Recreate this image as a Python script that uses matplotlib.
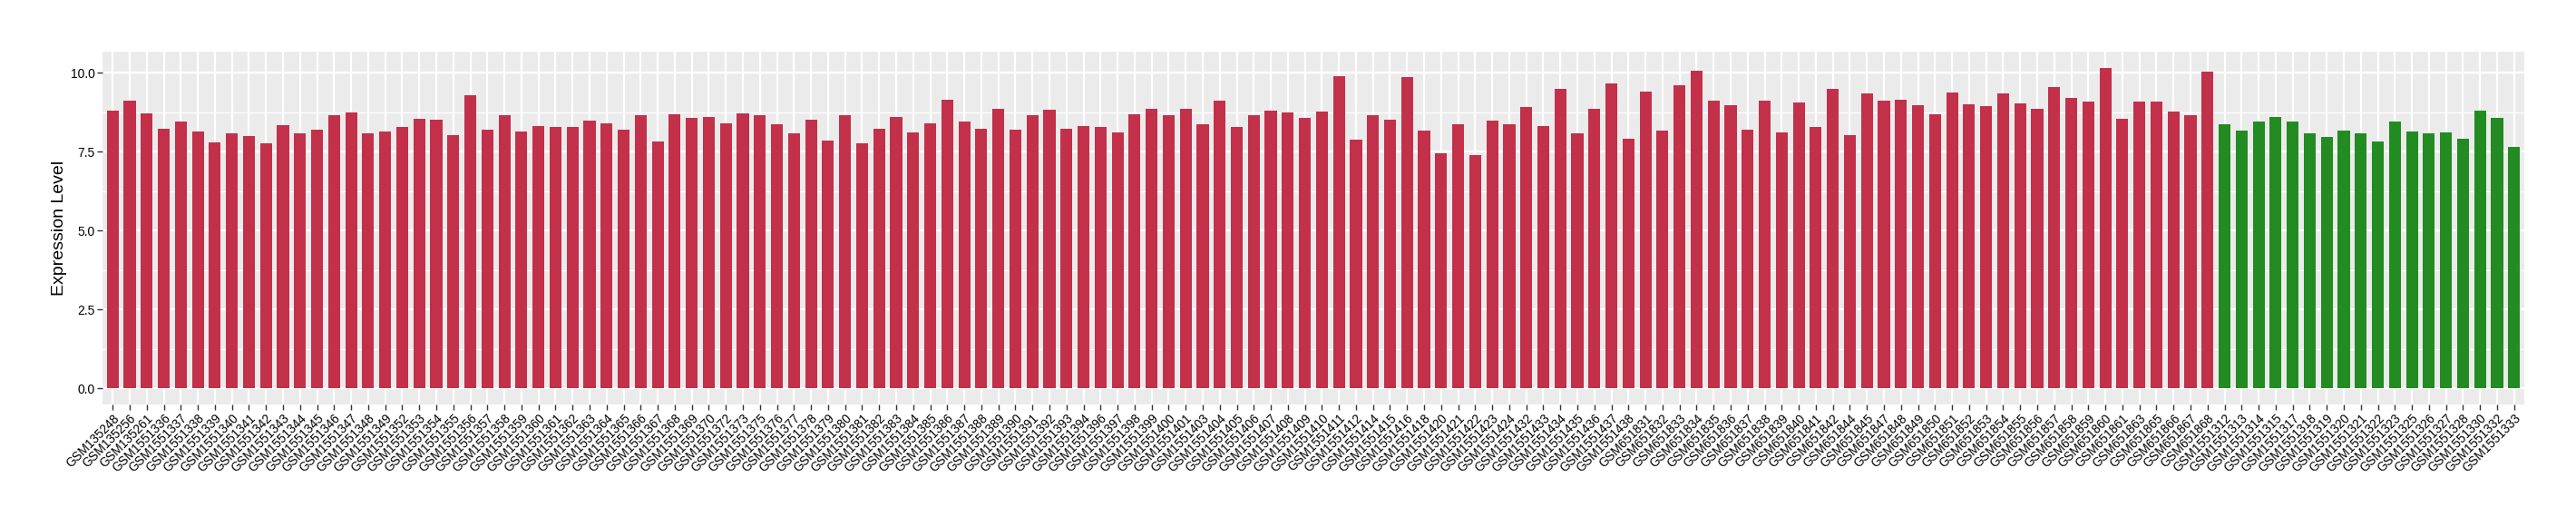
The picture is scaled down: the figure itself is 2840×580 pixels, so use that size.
import matplotlib
matplotlib.use("Agg")
import matplotlib.pyplot as plt
from matplotlib.ticker import MultipleLocator

plt.rcParams['font.family'] = ['Liberation Sans', 'DejaVu Sans']

# red group
tumor_samples = [
    "GSM135248", "GSM135256", "GSM135261",
    "GSM1551336", "GSM1551337", "GSM1551338", "GSM1551339", "GSM1551340", "GSM1551341",
    "GSM1551342", "GSM1551343", "GSM1551344", "GSM1551345", "GSM1551346", "GSM1551347",
    "GSM1551348", "GSM1551349", "GSM1551352", "GSM1551353", "GSM1551354", "GSM1551355",
    "GSM1551356", "GSM1551357", "GSM1551358", "GSM1551359", "GSM1551360", "GSM1551361",
    "GSM1551362", "GSM1551363", "GSM1551364", "GSM1551365", "GSM1551366", "GSM1551367",
    "GSM1551368", "GSM1551369", "GSM1551370", "GSM1551372", "GSM1551373", "GSM1551375",
    "GSM1551376", "GSM1551377", "GSM1551378", "GSM1551379", "GSM1551380", "GSM1551381",
    "GSM1551382", "GSM1551383", "GSM1551384", "GSM1551385", "GSM1551386", "GSM1551387",
    "GSM1551388", "GSM1551389", "GSM1551390", "GSM1551391", "GSM1551392", "GSM1551393",
    "GSM1551394", "GSM1551396", "GSM1551397", "GSM1551398", "GSM1551399", "GSM1551400",
    "GSM1551401", "GSM1551403", "GSM1551404", "GSM1551405", "GSM1551406", "GSM1551407",
    "GSM1551408", "GSM1551409", "GSM1551410", "GSM1551411", "GSM1551412", "GSM1551414",
    "GSM1551415", "GSM1551416", "GSM1551418", "GSM1551420", "GSM1551421", "GSM1551422",
    "GSM1551423", "GSM1551424", "GSM1551432", "GSM1551433", "GSM1551434", "GSM1551435",
    "GSM1551436", "GSM1551437", "GSM1551438",
    "GSM651831", "GSM651832", "GSM651833", "GSM651834", "GSM651835", "GSM651836",
    "GSM651837", "GSM651838", "GSM651839", "GSM651840", "GSM651841", "GSM651842",
    "GSM651844", "GSM651845", "GSM651847", "GSM651848", "GSM651849", "GSM651850",
    "GSM651851", "GSM651852", "GSM651853", "GSM651854", "GSM651855", "GSM651856",
    "GSM651857", "GSM651858", "GSM651859", "GSM651860", "GSM651861", "GSM651863",
    "GSM651865", "GSM651866", "GSM651867", "GSM651868",
]
tumor_values = [
    8.81, 9.12, 8.72,
    8.23, 8.44, 8.15, 7.80, 8.09, 8.00,
    7.75, 8.35, 8.07, 8.20, 8.64, 8.74,
    8.07, 8.15, 8.29, 8.55, 8.52, 8.03,
    9.29, 8.20, 8.64, 8.15, 8.32, 8.29,
    8.27, 8.49, 8.40, 8.20, 8.66, 7.83,
    8.69, 8.57, 8.60, 8.40, 8.72, 8.66,
    8.37, 8.07, 8.52, 7.86, 8.64, 7.75,
    8.23, 8.60, 8.12, 8.40, 9.14, 8.44,
    8.23, 8.86, 8.20, 8.64, 8.84, 8.23,
    8.32, 8.27, 8.12, 8.69, 8.86, 8.66,
    8.86, 8.37, 9.12, 8.27, 8.64, 8.81,
    8.74, 8.57, 8.77, 9.89, 7.89, 8.64,
    8.52, 9.86, 8.17, 7.46, 8.37, 7.38,
    8.49, 8.37, 8.92, 8.32, 9.49, 8.07,
    8.86, 9.66, 7.92,
    9.41, 8.17, 9.61, 10.06, 9.12, 8.97,
    8.20, 9.12, 8.12, 9.06, 8.29, 9.49,
    8.03, 9.34, 9.12, 9.14, 8.97, 8.69,
    9.38, 9.01, 8.94, 9.34, 9.04, 8.86,
    9.55, 9.21, 9.09, 10.15, 8.55, 9.09,
    9.09, 8.77, 8.64, 10.03,
]

# green group
normal_samples = [
    "GSM1551312", "GSM1551313", "GSM1551314", "GSM1551315", "GSM1551317", "GSM1551318",
    "GSM1551319", "GSM1551320", "GSM1551321", "GSM1551322", "GSM1551323", "GSM1551325",
    "GSM1551326", "GSM1551327", "GSM1551328", "GSM1551330", "GSM1551332", "GSM1551333",
]
normal_values = [
    8.37, 8.17, 8.46, 8.60, 8.46, 8.09,
    7.95, 8.17, 8.09, 7.83, 8.46, 8.15,
    8.07, 8.12, 7.92, 8.81, 8.57, 7.66,
]

samples = tumor_samples + normal_samples
values = tumor_values + normal_values
colors = ["#C3304A"] * len(tumor_samples) + ["#228B22"] * len(normal_samples)

fig = plt.figure(figsize=(28.4, 5.8), dpi=100)
ax = fig.add_axes([113 / 2840, 1 - 445.7 / 580, (2783 - 113) / 2840, (445.7 - 57.3) / 580])

x = list(range(len(samples)))
ax.bar(x, values, width=0.7, color=colors, zorder=3)

ymax = max(values)
ax.set_ylim(-0.05 * ymax, 1.05 * ymax)
ax.set_xlim(-0.6, len(samples) - 0.4)

ax.set_facecolor("#EBEBEB")
ax.yaxis.set_major_locator(MultipleLocator(2.5))
ax.yaxis.set_minor_locator(MultipleLocator(1.25))
ax.grid(which="major", axis="both", color="white", linewidth=1.6, zorder=0)
ax.grid(which="minor", axis="y", color="white", linewidth=0.8, zorder=0)
for s in ax.spines.values():
    s.set_visible(False)

ax.set_xticks(x)
ax.set_xticklabels(samples, rotation=45, ha="right", va="top", rotation_mode="anchor",
                   fontsize=9.8, color="black")
ax.tick_params(axis="x", which="major", length=4, width=1, color="#333333", pad=2)
ax.tick_params(axis="y", which="major", length=4, width=1, color="#333333", pad=2,
               labelsize=10, labelcolor="black")
ax.tick_params(axis="y", which="minor", length=0)
ax.set_yticklabels(["%.1f" % t for t in ax.get_yticks()])

ax.set_ylabel("Expression Level", fontsize=14, labelpad=3)

fig.savefig("out.png", dpi=100)
plt.close(fig)
